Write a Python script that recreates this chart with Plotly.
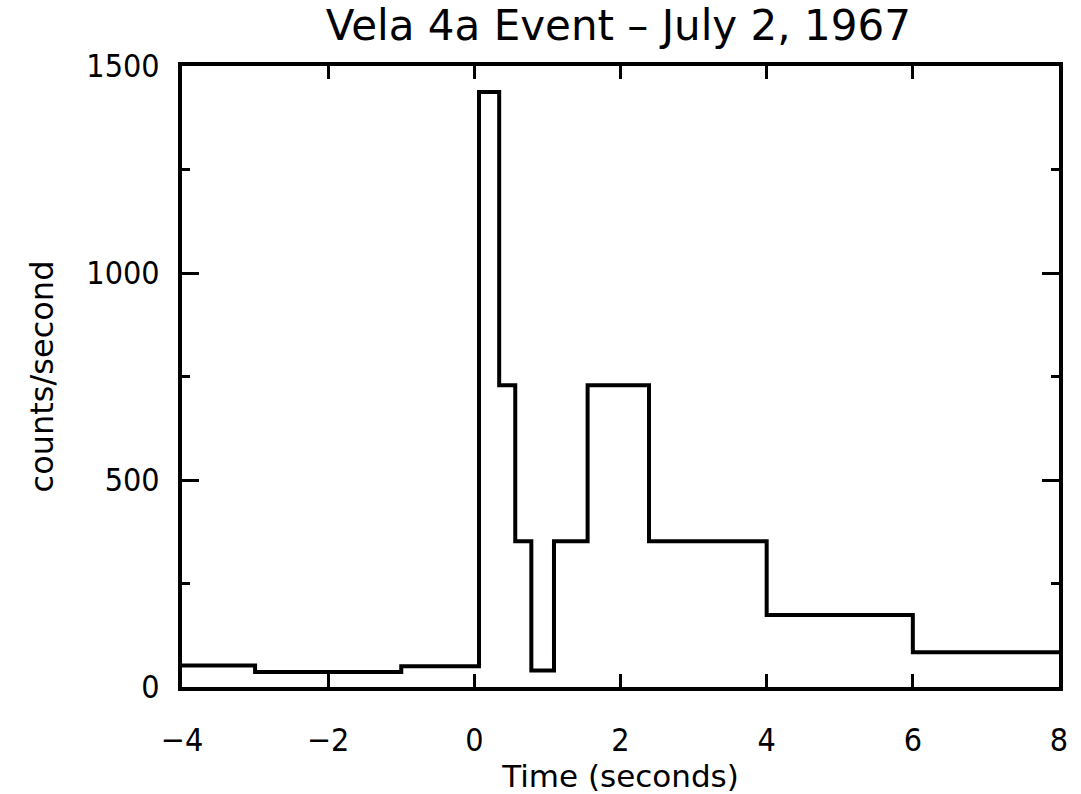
import plotly.graph_objects as go

# Bin edges (seconds) and count rates (counts/second) for each bin
bin_edges = [-4, -3, -1, 0.064, 0.34, 0.56, 0.78, 1.09, 1.55, 2.39, 4, 6, 8]
count_rates = [52, 36, 50, 1437, 729, 352, 40, 352, 729, 352, 174, 84]

x_ticks = [-4, -2, 0, 2, 4, 6, 8]
y_ticks = [0, 500, 1000, 1500]

NARROW = "DejaVu Sans Condensed, Liberation Sans Narrow, sans-serif"
REGULAR = "DejaVu Sans, Verdana, sans-serif"

fig = go.Figure()
fig.add_trace(go.Scatter(
    x=bin_edges,
    y=count_rates + [count_rates[-1]],
    mode="lines",
    line=dict(shape="hv", color="black", width=4),
    showlegend=False,
    hoverinfo="x+y",
))

axis_common = dict(
    showgrid=False, zeroline=False, automargin=False,
    showline=True, linecolor="black", linewidth=4,
    mirror="ticks", ticks="inside", tickcolor="black", tickwidth=3,
    tickfont=dict(family=NARROW, size=32, color="black"),
)

fig.update_xaxes(
    range=[-4, 8], tickvals=x_ticks, ticklen=13,
    ticklabelstandoff=22,
    title=dict(text="Time (seconds)", font=dict(family=REGULAR, size=31, color="black"), standoff=4),
    **axis_common,
)
fig.update_yaxes(
    range=[0, 1500], tickvals=y_ticks, ticklen=17,
    ticklabelstandoff=12,
    minor=dict(dtick=250, ticklen=8, tickwidth=3, ticks="inside", tickcolor="black", showgrid=False),
    title=dict(text="counts/second", font=dict(family=REGULAR, size=32, color="black"), standoff=24),
    **axis_common,
)

fig.update_layout(
    width=1081, height=794,
    margin=dict(l=182, r=22, t=66, b=107, autoexpand=False),
    paper_bgcolor="white", plot_bgcolor="white",
    title=dict(text="Vela 4a Event – July 2, 1967", x=0.572, xanchor="center",
               xref="container", yref="container",
               y=0.968, yanchor="middle",
               font=dict(family=REGULAR, size=42, color="black")),
)

fig.write_html(
    "out.html",
    config={"displayModeBar": False},
    post_script="document.body.style.margin='0';document.body.style.overflow='hidden';",
)
